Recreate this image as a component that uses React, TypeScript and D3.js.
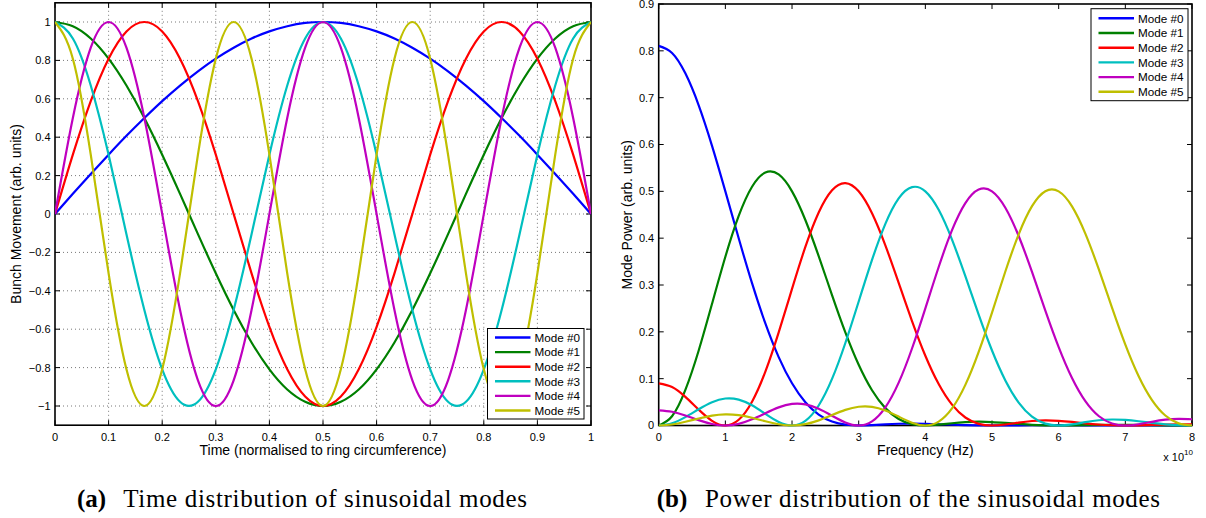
import React from 'react';
import * as d3 from 'd3';

const MODE_NAMES = ['Mode #0', 'Mode #1', 'Mode #2', 'Mode #3', 'Mode #4', 'Mode #5'];
const MODE_COLORS = ['#0000ff', '#008000', '#ff0000', '#00bfbf', '#bf00bf', '#bfbf00'];

// ---- panel (a): time distribution ----
const TIME = [0, 0.0333, 0.0667, 0.1, 0.1333, 0.1667, 0.2, 0.2333, 0.2667, 0.3, 0.3333, 0.3667, 0.4, 0.4333, 0.4667, 0.5,
  0.5333, 0.5667, 0.6, 0.6333, 0.6667, 0.7, 0.7333, 0.7667, 0.8, 0.8333, 0.8667, 0.9, 0.9333, 0.9667, 1];
const MODE0_T = [0, 0.105, 0.208, 0.309, 0.407, 0.5, 0.588, 0.669, 0.743, 0.809, 0.866, 0.914, 0.951, 0.978, 0.995, 1,
  0.995, 0.978, 0.951, 0.914, 0.866, 0.809, 0.743, 0.669, 0.588, 0.5, 0.407, 0.309, 0.208, 0.105, 0];
const MODE1_T = [1, 0.978, 0.914, 0.809, 0.669, 0.5, 0.309, 0.105, -0.105, -0.309, -0.5, -0.669, -0.809, -0.914, -0.978, -1,
  -0.978, -0.914, -0.809, -0.669, -0.5, -0.309, -0.105, 0.105, 0.309, 0.5, 0.669, 0.809, 0.914, 0.978, 1];
const MODE2_T = [0, 0.309, 0.588, 0.809, 0.951, 1, 0.951, 0.809, 0.588, 0.309, 0, -0.309, -0.588, -0.809, -0.951, -1,
  -0.951, -0.809, -0.588, -0.309, 0, 0.309, 0.588, 0.809, 0.951, 1, 0.951, 0.809, 0.588, 0.309, 0];
const MODE3_T = [1, 0.914, 0.669, 0.309, -0.105, -0.5, -0.809, -0.978, -0.978, -0.809, -0.5, -0.105, 0.309, 0.669, 0.914, 1,
  0.914, 0.669, 0.309, -0.105, -0.5, -0.809, -0.978, -0.978, -0.809, -0.5, -0.105, 0.309, 0.669, 0.914, 1];
const MODE4_T = [0, 0.5, 0.866, 1, 0.866, 0.5, 0, -0.5, -0.866, -1, -0.866, -0.5, 0, 0.5, 0.866, 1,
  0.866, 0.5, 0, -0.5, -0.866, -1, -0.866, -0.5, 0, 0.5, 0.866, 1, 0.866, 0.5, 0];
const MODE5_T = [1, 0.809, 0.309, -0.309, -0.809, -1, -0.809, -0.309, 0.309, 0.809, 1, 0.809, 0.309, -0.309, -0.809, -1,
  -0.809, -0.309, 0.309, 0.809, 1, 0.809, 0.309, -0.309, -0.809, -1, -0.809, -0.309, 0.309, 0.809, 1];
const TIME_SERIES = [MODE0_T, MODE1_T, MODE2_T, MODE3_T, MODE4_T, MODE5_T];
const TIME_X_TICKS = [0, 0.1, 0.2, 0.3, 0.4, 0.5, 0.6, 0.7, 0.8, 0.9, 1];
const TIME_Y_TICKS = [-1, -0.8, -0.6, -0.4, -0.2, 0, 0.2, 0.4, 0.6, 0.8, 1];

// ---- panel (b): power distribution (frequency in units of 1e10 Hz) ----
const FREQ = [0, 0.2, 0.4, 0.6, 0.8, 1, 1.2, 1.4, 1.6, 1.8, 2, 2.2, 2.4, 2.6, 2.8, 3, 3.2, 3.4, 3.6, 3.8, 4,
  4.2, 4.4, 4.6, 4.8, 5, 5.2, 5.4, 5.6, 5.8, 6, 6.2, 6.4, 6.6, 6.8, 7, 7.2, 7.4, 7.6, 7.8, 8];
const MODE0_P = [0.8106, 0.7955, 0.7519, 0.6837, 0.5972, 0.5, 0.3998, 0.3039, 0.218, 0.1461, 0.0901, 0.0497, 0.0234, 0.0084, 0.0017, 0,
  0.0009, 0.0025, 0.0037, 0.0041, 0.0036, 0.0027, 0.0016, 0.0007, 0.0002, 0, 0.0001, 0.0004, 0.0006, 0.0007, 0.0007,
  0.0005, 0.0003, 0.0002, 0, 0, 0, 0.0001, 0.0002, 0.0002, 0.0002];
const MODE1_P = [0, 0.0197, 0.076, 0.1602, 0.2598, 0.3603, 0.4475, 0.5099, 0.5402, 0.536, 0.5, 0.4388, 0.3616, 0.2786, 0.1989, 0.1297,
  0.0753, 0.0371, 0.014, 0.0028, 0, 0.0017, 0.0048, 0.0072, 0.0081, 0.0074, 0.0055, 0.0034, 0.0015, 0.0004, 0,
  0.0003, 0.0008, 0.0014, 0.0016, 0.0016, 0.0013, 0.0008, 0.0004, 0.0001, 0];
const MODE2_P = [0.0901, 0.0822, 0.0611, 0.0338, 0.01, 0, 0.0122, 0.0509, 0.1151, 0.1989, 0.2918, 0.3813, 0.4548, 0.5023, 0.5177, 0.5,
  0.4531, 0.3846, 0.3045, 0.223, 0.1489, 0.0884, 0.0445, 0.0171, 0.0035, 0, 0.0021, 0.0062, 0.0096, 0.0109, 0.01,
  0.0076, 0.0047, 0.0021, 0.0005, 0, 0.0004, 0.0012, 0.002, 0.0025, 0.0024];
const MODE3_P = [0, 0.0049, 0.0179, 0.0347, 0.0497, 0.0576, 0.0553, 0.0431, 0.0248, 0.0076, 0, 0.0099, 0.0427, 0.0994, 0.1762, 0.2647,
  0.3536, 0.4306, 0.4849, 0.5089, 0.5, 0.4605, 0.3969, 0.3188, 0.2367, 0.1601, 0.0963, 0.049, 0.019, 0.004, 0,
  0.0025, 0.0072, 0.0112, 0.0128, 0.0119, 0.0091, 0.0057, 0.0026, 0.0006, 0];
const MODE4_P = [0.0324, 0.0294, 0.0215, 0.0115, 0.0033, 0, 0.0035, 0.0132, 0.0263, 0.0387, 0.046, 0.0451, 0.0358, 0.021, 0.0066, 0,
  0.0089, 0.0388, 0.0915, 0.1644, 0.2502, 0.3384, 0.417, 0.4748, 0.5037, 0.5, 0.465, 0.4046, 0.3279, 0.2455, 0.1675,
  0.1015, 0.0521, 0.0203, 0.0043, 0, 0.0027, 0.0079, 0.0124, 0.0143, 0.0133];
const MODE5_P = [0, 0.0022, 0.0079, 0.015, 0.0211, 0.0238, 0.0221, 0.0165, 0.009, 0.0026, 0, 0.0029, 0.011, 0.0223, 0.0333, 0.04,
  0.0398, 0.032, 0.019, 0.006, 0, 0.0083, 0.0364, 0.0867, 0.1572, 0.2412, 0.3288, 0.4082, 0.4683, 0.5003, 0.5,
  0.468, 0.4098, 0.3342, 0.2517, 0.1727, 0.1052, 0.0543, 0.0213, 0.0045, 0];
const POWER_SERIES = [MODE0_P, MODE1_P, MODE2_P, MODE3_P, MODE4_P, MODE5_P];
const FREQ_X_TICKS = [0, 1, 2, 3, 4, 5, 6, 7, 8];
const FREQ_Y_TICKS = [0, 0.1, 0.2, 0.3, 0.4, 0.5, 0.6, 0.7, 0.8, 0.9];

const SANS = '"Liberation Sans", Arial, Helvetica, sans-serif';
const SERIF = '"Liberation Serif", "Times New Roman", serif';
const TICK_FS = 11;
const LEG_FS = 11.7;
const LABEL_FS = 14;
const TICK_LEN = 5;

const fmt = (v: number) => String(v).replace('-', '\u2212');

function Legend({ x0, y0, w, h, rowY0, rowStep }: { x0: number; y0: number; w: number; h: number; rowY0: number; rowStep: number }) {
  return (
    <g>
      <rect x={x0} y={y0} width={w} height={h} fill="#fff" stroke="#000" strokeWidth={1} />
      {MODE_NAMES.map((name, i) => {
        const y = rowY0 + i * rowStep;
        return (
          <g key={name}>
            <line x1={x0 + 7.5} x2={x0 + 43} y1={y} y2={y} stroke={MODE_COLORS[i]} strokeWidth={2.4} />
            <text x={x0 + 47} y={y} dy="0.36em" fontFamily={SANS} fontSize={LEG_FS} fill="#000">{name}</text>
          </g>
        );
      })}
    </g>
  );
}

export default function App() {
  const W = 1206, H = 518;

  // panel a scales
  const xA = d3.scaleLinear().domain([0, 1]).range([55, 591]);
  const yA = d3.scaleLinear().domain([-1.1, 1.1]).range([425.2, 2.8]);
  // panel b scales
  const xB = d3.scaleLinear().domain([0, 8]).range([658.7, 1192]);
  const yB = d3.scaleLinear().domain([0, 0.9]).range([425.5, 4]);

  const lineA = (ys: number[]) =>
    d3.line<number>().x((_, i) => xA(TIME[i])).y((d) => yA(d)).curve(d3.curveNatural)(ys) || '';
  const lineB = (ys: number[]) =>
    d3.line<number>().x((_, i) => xB(FREQ[i])).y((d) => yB(d)).curve(d3.curveNatural)(ys) || '';

  const aL = xA(0), aR = xA(1), aT = yA(1.1), aB = yA(-1.1);
  const bL = xB(0), bR = xB(8), bT = yB(0.9), bB = yB(0);

  return (
    <svg width={W} height={H} viewBox={`0 0 ${W} ${H}`} style={{ position: 'absolute', left: 0, top: 0, background: '#fff' }}>
      <defs>
        <clipPath id="clipA"><rect x={aL} y={aT - 2} width={aR - aL} height={aB - aT + 4} /></clipPath>
        <clipPath id="clipB"><rect x={bL} y={bT} width={bR - bL} height={bB - bT + 2} /></clipPath>
      </defs>
      <rect x={0} y={0} width={W} height={H} fill="#fff" />

      {/* ===== Panel (a) ===== */}
      <g>
        {/* grid */}
        {TIME_X_TICKS.filter((t) => t > 0 && t < 1).map((t) => (
          <line key={'gx' + t} x1={xA(t)} x2={xA(t)} y1={aT} y2={aB} stroke="#555" strokeWidth={0.8} strokeDasharray="1 3" />
        ))}
        {TIME_Y_TICKS.map((t) => (
          <line key={'gy' + t} x1={aL} x2={aR} y1={yA(t)} y2={yA(t)} stroke="#555" strokeWidth={0.8} strokeDasharray="1 3" />
        ))}
        {/* ticks */}
        {TIME_X_TICKS.map((t) => (
          <g key={'tx' + t}>
            <line x1={xA(t)} x2={xA(t)} y1={aB} y2={aB - TICK_LEN} stroke="#000" strokeWidth={1} />
            <line x1={xA(t)} x2={xA(t)} y1={aT} y2={aT + TICK_LEN} stroke="#000" strokeWidth={1} />
            <text x={xA(t)} y={440.5} textAnchor="middle" fontFamily={SANS} fontSize={TICK_FS} fill="#000">{fmt(t)}</text>
          </g>
        ))}
        {TIME_Y_TICKS.map((t) => (
          <g key={'ty' + t}>
            <line x1={aL} x2={aL + TICK_LEN} y1={yA(t)} y2={yA(t)} stroke="#000" strokeWidth={1} />
            <line x1={aR} x2={aR - TICK_LEN} y1={yA(t)} y2={yA(t)} stroke="#000" strokeWidth={1} />
            <text x={aL - 4.5} y={yA(t)} dy="0.36em" textAnchor="end" fontFamily={SANS} fontSize={TICK_FS} fill="#000">{fmt(t)}</text>
          </g>
        ))}
        <rect x={aL} y={aT} width={aR - aL} height={aB - aT} fill="none" stroke="#000" strokeWidth={1.6} />
        <g clipPath="url(#clipA)">
          {TIME_SERIES.map((s, i) => (
            <path key={'la' + i} d={lineA(s)} fill="none" stroke={MODE_COLORS[i]} strokeWidth={2.2} strokeLinejoin="round" />
          ))}
        </g>
        <Legend x0={487.5} y0={328.5} w={96.5} h={90.5} rowY0={337.5} rowStep={14.6} />
        <text x={(aL + aR) / 2} y={455} textAnchor="middle" fontFamily={SANS} fontSize={LABEL_FS} fill="#000">
          Time (normalised to ring circumference)
        </text>
        <text transform={`translate(20.5, ${(aT + aB) / 2}) rotate(-90)`} textAnchor="middle" fontFamily={SANS} fontSize={LABEL_FS} fill="#000">
          Bunch Movement (arb. units)
        </text>
      </g>

      {/* ===== Panel (b) ===== */}
      <g>
        {FREQ_X_TICKS.map((t) => (
          <g key={'fx' + t}>
            <line x1={xB(t)} x2={xB(t)} y1={bB} y2={bB - TICK_LEN} stroke="#000" strokeWidth={1} />
            <line x1={xB(t)} x2={xB(t)} y1={bT} y2={bT + TICK_LEN} stroke="#000" strokeWidth={1} />
            <text x={xB(t)} y={440.5} textAnchor="middle" fontFamily={SANS} fontSize={TICK_FS} fill="#000">{fmt(t)}</text>
          </g>
        ))}
        {FREQ_Y_TICKS.map((t) => (
          <g key={'fy' + t}>
            <line x1={bL} x2={bL + TICK_LEN} y1={yB(t)} y2={yB(t)} stroke="#000" strokeWidth={1} />
            <line x1={bR} x2={bR - TICK_LEN} y1={yB(t)} y2={yB(t)} stroke="#000" strokeWidth={1} />
            <text x={bL - 4.5} y={yB(t)} dy="0.36em" textAnchor="end" fontFamily={SANS} fontSize={TICK_FS} fill="#000">{fmt(t)}</text>
          </g>
        ))}
        <rect x={bL} y={bT} width={bR - bL} height={bB - bT} fill="none" stroke="#000" strokeWidth={1.6} />
        <g clipPath="url(#clipB)">
          {POWER_SERIES.map((s, i) => (
            <path key={'lb' + i} d={lineB(s)} fill="none" stroke={MODE_COLORS[i]} strokeWidth={2.2} strokeLinejoin="round" />
          ))}
        </g>
        <Legend x0={1091} y0={8.7} w={97} h={92} rowY0={18.3} rowStep={14.7} />
        <text x={(bL + bR) / 2} y={455} textAnchor="middle" fontFamily={SANS} fontSize={LABEL_FS} fill="#000">
          Frequency (Hz)
        </text>
        <text transform={`translate(632, ${(bT + bB) / 2}) rotate(-90)`} textAnchor="middle" fontFamily={SANS} fontSize={LABEL_FS} fill="#000">
          Mode Power (arb. units)
        </text>
        <text x={1163.3} y={461} fontFamily={SANS} fontSize={11} fill="#000">
          x 10<tspan fontSize={8} dy={-6}>10</tspan>
        </text>
      </g>

      {/* ===== Captions ===== */}
      <text x={77} y={507} fontFamily={SERIF} fontSize={25} fontWeight="bold" fill="#000">(a)</text>
      <text x={123.3} y={507} fontFamily={SERIF} fontSize={25} fill="#000" textLength={403.7} lengthAdjust="spacing">
        Time distribution of sinusoidal modes
      </text>
      <text x={656.7} y={507} fontFamily={SERIF} fontSize={25} fontWeight="bold" fill="#000">(b)</text>
      <text x={705} y={507} fontFamily={SERIF} fontSize={25} fill="#000" textLength={455} lengthAdjust="spacing">
        Power distribution of the sinusoidal modes
      </text>
    </svg>
  );
}
